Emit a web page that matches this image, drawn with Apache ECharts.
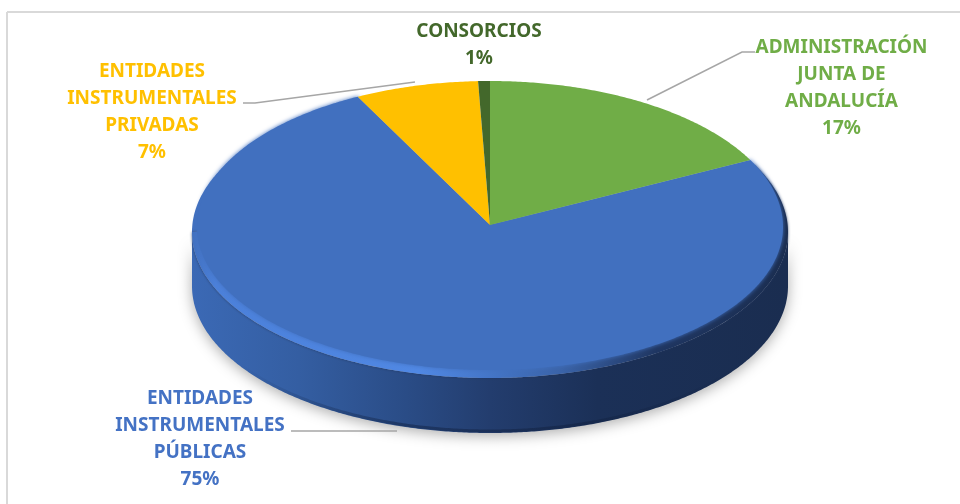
<!DOCTYPE html>
<html>
<head>
<meta charset="utf-8">
<style>html,body{margin:0;padding:0;background:#fff}#main{width:960px;height:504px}</style>
<script src="https://cdn.jsdelivr.net/npm/echarts@6/dist/echarts.min.js"></script>
</head>
<body>
<div id="main"></div>
<script>
var categories = ['ADMINISTRACIÓN\nJUNTA DE\nANDALUCÍA', 'ENTIDADES\nINSTRUMENTALES\nPÚBLICAS', 'ENTIDADES\nINSTRUMENTALES\nPRIVADAS', 'CONSORCIOS'];
var values = [17.4, 75.15, 6.8, 0.65];

var sliceColors = ['#70AD47', '#4170BF', '#FFC000', '#43682B'];
var textColors = ['#70AD47', '#4472C4', '#FFC000', '#43682B'];
var labelCenters = [[841.5, 88], [200, 439], [152, 112], [479, 45]];
var leaderLines = [
    [[647, 100], [742, 52], [755, 52]],
    [[291, 431], [397, 431]],
    [[243, 103], [255, 103], [415, 82]],
    []
];

// pie geometry, the top face sits a bit inside of the rim
var cx = 490, apexY = 225;
var topFace = {rx: 293, ry: 146, ryFront: 143, cy: 227};
var rim = {rx: 298, ry: 146, cy: 232};
var bottom = {rx: 298, ry: 147, cy: 286};

var total = values.reduce(function (a, b) { return a + b; }, 0);

function sliceRange(i) {
    var before = values.slice(0, i).reduce(function (a, b) { return a + b; }, 0);
    return [before / total * 360, (before + values[i]) / total * 360];
}

function arcPoints(e, from, to) {
    var pts = [], n = Math.max(2, Math.ceil(Math.abs(to - from) * 2));
    for (var k = 0; k <= n; k++) {
        var deg = from + (to - from) * k / n;
        var a = deg * Math.PI / 180;
        var ry = (deg > 90 && deg < 270 && e.ryFront) ? e.ryFront : e.ry;
        pts.push([cx + e.rx * Math.sin(a), e.cy - ry * Math.cos(a)]);
    }
    return pts;
}

function hGradient(stops) {
    return new echarts.graphic.LinearGradient(192, 0, 788, 0, stops, true);
}

var wallFill = hGradient([
    {offset: 0, color: '#3B69B5'},
    {offset: 0.18, color: '#345EA2'},
    {offset: 0.36, color: '#2A4C86'},
    {offset: 0.5, color: '#233D6E'},
    {offset: 0.68, color: '#1B3057'},
    {offset: 1, color: '#1A2D50'}
]);
var rimFill = hGradient([
    {offset: 0, color: '#4170BF'},
    {offset: 0.04, color: '#4B80DA'},
    {offset: 0.38, color: '#5088E4'},
    {offset: 0.52, color: '#4272C2'},
    {offset: 0.62, color: '#3A63A8'},
    {offset: 0.78, color: '#1F3662'},
    {offset: 1, color: '#1A2D50'}
]);
var lipStroke = hGradient([
    {offset: 0.08, color: 'rgba(15,30,60,0)'},
    {offset: 0.35, color: 'rgba(15,30,60,0.45)'},
    {offset: 0.65, color: 'rgba(15,30,60,0.45)'},
    {offset: 0.92, color: 'rgba(15,30,60,0)'}
]);

// side wall and bevel, only for what faces the viewer
function renderBody(params) {
    var r = sliceRange(params.dataIndex);
    var from = Math.max(r[0], 90), to = Math.min(r[1], 270);
    if (from >= to) {
        return {type: 'group', children: []};
    }
    var wallPts = arcPoints(rim, from, to).concat(arcPoints(bottom, to, from));
    var children = [
        {
            type: 'polygon',
            shape: {points: wallPts},
            style: {fill: wallFill, shadowBlur: 14, shadowColor: 'rgba(0,0,0,0.32)', shadowOffsetY: 3}
        },
        // darker lip along the bottom edge
        {
            type: 'polyline',
            shape: {points: arcPoints({rx: bottom.rx - 1, ry: bottom.ry - 2, cy: bottom.cy}, 110, 250)},
            style: {fill: null, stroke: lipStroke, lineWidth: 3}
        }
    ];
    if (r[1] > 270) {
        children.push({
            type: 'polygon',
            shape: {points: [[cx, apexY]].concat(arcPoints(rim, 270, r[1]))},
            style: {fill: sliceColors[params.dataIndex]}
        });
    }
    children.push({
        type: 'polygon',
        shape: {points: [[cx, apexY]].concat(arcPoints(rim, r[0], to))},
        style: {fill: rimFill, shadowBlur: 3, shadowColor: 'rgba(30,50,90,0.8)'}
    });
    return {type: 'group', children: children};
}

function renderFace(params) {
    var i = params.dataIndex;
    var r = sliceRange(i);
    var biggest = values[i] === Math.max.apply(null, values);
    return {
        type: 'polygon',
        z2: biggest ? 1 : 2,
        shape: {points: [[cx, apexY]].concat(arcPoints(topFace, r[0], r[1]))},
        style: {
            fill: sliceColors[i],
            shadowBlur: biggest ? 4 : 0,
            shadowColor: sliceColors[i]
        }
    };
}

function renderLabel(params) {
    var i = params.dataIndex;
    var children = [{
        type: 'text',
        x: labelCenters[i][0],
        y: labelCenters[i][1],
        style: {
            text: categories[i] + '\n' + Math.round(values[i]) + '%',
            fill: textColors[i],
            font: 'bold 19px "Noto Sans"',
            lineHeight: 27,
            align: 'center',
            verticalAlign: 'middle'
        }
    }];
    if (leaderLines[i].length) {
        children.push({
            type: 'polyline',
            shape: {points: leaderLines[i]},
            style: {fill: null, stroke: '#A6A6A6', lineWidth: 1.5}
        });
    }
    return {type: 'group', children: children};
}

var myChart = echarts.init(document.getElementById('main'), null, {renderer: 'canvas'});
myChart.setOption({
    backgroundColor: '#fff',
    animation: false,
    graphic: [
        {type: 'line', shape: {x1: 7, y1: 12, x2: 960, y2: 12}, style: {stroke: '#D9D9D9', lineWidth: 2}},
        {type: 'line', shape: {x1: 7, y1: 12, x2: 7, y2: 504}, style: {stroke: '#D9D9D9', lineWidth: 2}}
    ],
    series: [
        {type: 'custom', coordinateSystem: 'none', silent: true, z: 1, renderItem: renderBody, data: values},
        {type: 'custom', coordinateSystem: 'none', silent: true, z: 2, renderItem: renderFace, data: values},
        {type: 'custom', coordinateSystem: 'none', silent: true, z: 3, renderItem: renderLabel, data: values}
    ]
});
</script>
</body>
</html>
